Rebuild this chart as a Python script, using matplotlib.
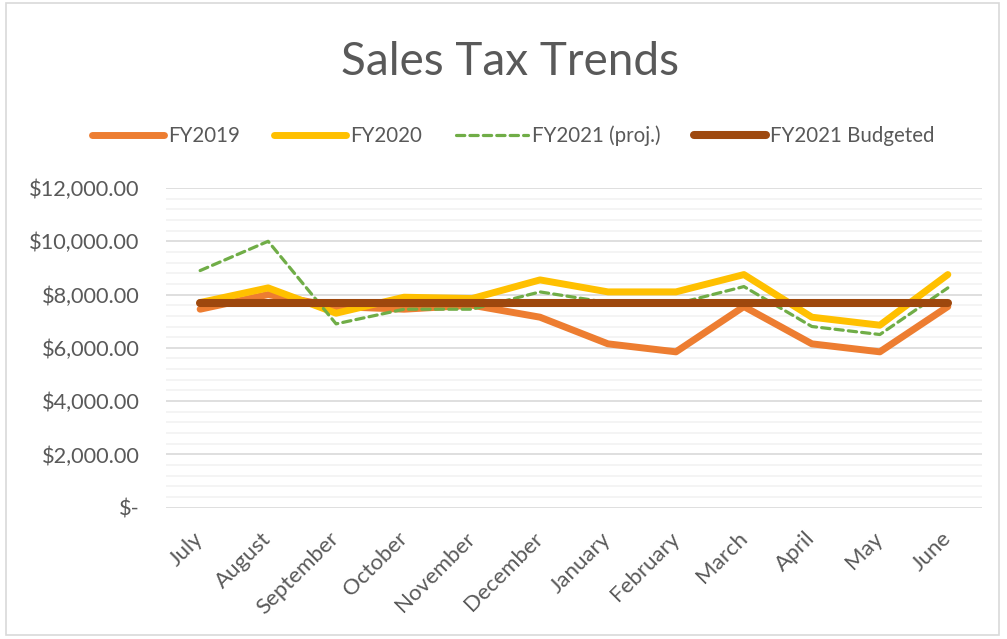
import matplotlib
matplotlib.use("Agg")
import matplotlib.pyplot as plt
from matplotlib.ticker import MultipleLocator, FuncFormatter
from matplotlib.patches import Rectangle

months = ["July", "August", "September", "October", "November", "December",
          "January", "February", "March", "April", "May", "June"]
fy2019 = [7450, 8000, 7550, 7450, 7600, 7150, 6150, 5850, 7550, 6150, 5850, 7550]
fy2020 = [7700, 8250, 7300, 7900, 7850, 8550, 8100, 8100, 8750, 7150, 6850, 8750]
fy2021_proj = [8900, 10000, 6900, 7450, 7450, 8100, 7700, 7650, 8300, 6800, 6500, 8250]
fy2021_budget = [7700] * 12

plt.rcParams['font.family'] = ['Lato', 'DejaVu Sans']
gray = "#595959"

fig = plt.figure(figsize=(10.07, 6.39), dpi=100)
fig.patches.append(Rectangle((0.006, 0.006), 0.986, 0.99, transform=fig.transFigure,
                             fill=False, edgecolor="#D9D9D9", linewidth=1.2))

ax = fig.add_axes([0.165, 0.2055, 0.81, 0.5003])
x = list(range(len(months)))
ax.plot(x, fy2019, color="#ED7D31", lw=5, solid_capstyle="round", solid_joinstyle="round", label="FY2019", zorder=3)
ax.plot(x, fy2020, color="#FFC000", lw=5, solid_capstyle="round", solid_joinstyle="round", label="FY2020", zorder=4)
ax.plot(x, fy2021_proj, color="#70AD47", lw=2.3, dashes=(2.6, 1.6), dash_capstyle="round",
        label="FY2021 (proj.)", zorder=5)
ax.plot(x, fy2021_budget, color="#9E480E", lw=5.8, solid_capstyle="round", label="FY2021 Budgeted", zorder=6)

ax.set_xlim(-0.5, 11.5)
ax.set_ylim(0, 12000)
ax.yaxis.set_major_locator(MultipleLocator(2000))
ax.yaxis.set_minor_locator(MultipleLocator(400))
ax.grid(which="major", axis="y", color="#D9D9D9", lw=1.2, zorder=0)
ax.grid(which="minor", axis="y", color="#F2F2F2", lw=1.2, zorder=0)
ax.set_axisbelow(True)
for s in ax.spines.values():
    s.set_visible(False)
ax.tick_params(which="both", length=0)
ax.tick_params(axis="y", pad=19, labelsize=15.7, labelcolor=gray)
ax.tick_params(axis="x", pad=20, labelsize=16, labelcolor=gray)

def fmt(v, pos):
    if v == 0:
        return "$-"
    return "${:,.2f}".format(v)
ax.yaxis.set_major_formatter(FuncFormatter(fmt))
ax.set_xticks(x)
ax.set_xticklabels(months, rotation=45, ha="right", va="center", rotation_mode="anchor")

fig.text(0.506, 0.903, "Sales Tax Trends", ha="center", va="center", fontsize=33,
         color=gray, fontweight="normal")

leg = fig.legend(loc="center", bbox_to_anchor=(0.51, 0.787), ncol=4, frameon=False,
                 fontsize=14.8, handlelength=3.5, handletextpad=0.2, columnspacing=1.65,
                 labelcolor=gray)

fig.savefig("out.png", dpi=100, facecolor="white")
